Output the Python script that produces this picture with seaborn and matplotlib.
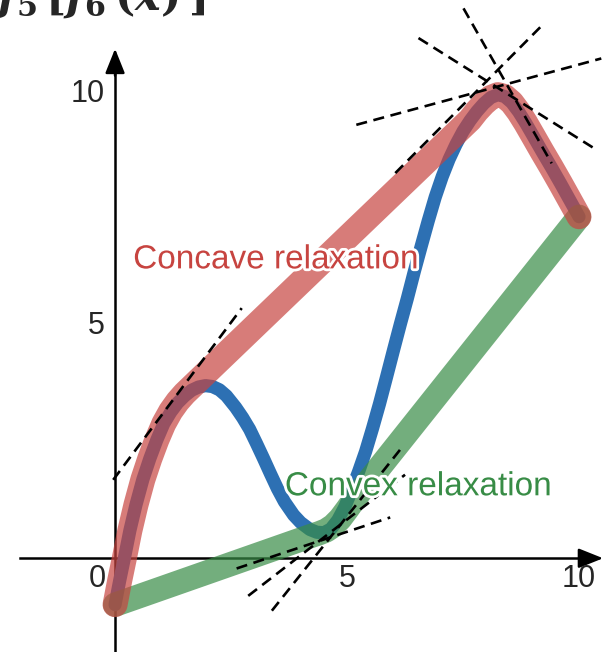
import numpy as np
import pandas as pd
import matplotlib
matplotlib.use("Agg")
import matplotlib.pyplot as plt
import matplotlib.patheffects as pe
import seaborn as sns

# ---- data ----
f_x = [0, 0.1, 0.2, 0.32, 0.45, 0.6, 0.75, 0.9, 1.05, 1.2, 1.35, 1.5, 1.65, 1.8, 1.95,
       2.1, 2.25, 2.4, 2.6, 2.75, 2.9, 3.05, 3.2, 3.35, 3.5, 3.65, 3.85, 4.0, 4.2, 4.35,
       4.5, 4.65, 4.8, 4.95, 5.1, 5.25, 5.4, 5.55, 5.7, 5.85, 6.0, 6.15, 6.3, 6.45, 6.6,
       6.75, 6.9, 7.05, 7.2, 7.35, 7.5, 7.65, 7.8, 7.95, 8.1, 8.25, 8.4, 8.55, 8.7, 8.85,
       9.0, 9.2, 9.4, 9.6, 9.8, 10]
f_y = [-1, -0.48, 0.0, 0.6, 1.15, 1.7, 2.15, 2.55, 2.9, 3.15, 3.35, 3.5, 3.62, 3.69, 3.72,
       3.7, 3.63, 3.5, 3.25, 3.03, 2.78, 2.47, 2.15, 1.82, 1.5, 1.22, 0.93, 0.77, 0.62, 0.56,
       0.55, 0.63, 0.82, 1.1, 1.47, 1.87, 2.3, 2.8, 3.33, 3.9, 4.48, 5.05, 5.6, 6.18, 6.73,
       7.27, 7.78, 8.22, 8.6, 8.92, 9.2, 9.43, 9.63, 9.8, 9.93, 9.99, 9.95, 9.82, 9.62, 9.38,
       9.12, 8.77, 8.43, 8.08, 7.72, 7.36]

concave_x = [0, 0.1, 0.2, 0.32, 0.45, 0.6, 0.75, 0.9, 1.05, 1.2, 1.35, 1.5, 7.65, 7.8,
             7.95, 8.1, 8.25, 8.4, 8.55, 8.7, 8.85, 9.0, 9.2, 9.4, 9.6, 9.8, 10]
concave_y = [-1, -0.48, 0.0, 0.6, 1.15, 1.7, 2.15, 2.55, 2.9, 3.17, 3.38, 3.55, 9.45, 9.64,
             9.8, 9.93, 9.99, 9.95, 9.82, 9.62, 9.38, 9.12, 8.77, 8.43, 8.08, 7.72, 7.36]

convex_x = [0, 4.25, 4.4, 4.55, 4.7, 4.85, 5.0, 5.2, 10]
convex_y = [-1, 0.49, 0.54, 0.6, 0.7, 0.85, 1.05, 1.33, 7.36]

# dashed tangent segments (x0, y0, x1, y1)
tangent_x0 = [-0.04, 2.62, 2.87, 3.38, 5.20, 6.54, 7.51, 6.04]
tangent_y0 = [1.69, -0.22, -0.81, -1.13, 9.34, 11.21, 11.85, 8.30]
tangent_x1 = [2.73, 5.93, 6.25, 6.20, 10.48, 10.38, 9.41, 9.23]
tangent_y1 = [5.39, 0.88, 1.80, 2.41, 10.77, 8.80, 8.51, 11.51]

tick_vals = [5, 10]
tick_labels = ["5", "10"]
title_text = r"$f_5\,[f_6\,(x)\,]$"
concave_label = "Concave relaxation"
convex_label = "Convex relaxation"

# ---- style ----
sns.set_style("white")
plt.rcParams["font.family"] = ["Liberation Sans", "DejaVu Sans"]
plt.rcParams["mathtext.fontset"] = "custom"
plt.rcParams["mathtext.rm"] = "DejaVu Serif:bold"
plt.rcParams["mathtext.it"] = "DejaVu Serif:bold:italic"
plt.rcParams["mathtext.bf"] = "DejaVu Serif:bold"

RED = "#c74440"
BLUE = "#2d70b3"
GREEN = "#388c46"

fig = plt.figure(figsize=(6.05, 6.52), dpi=100)
ax = fig.add_axes([0, 0, 1, 1])
ax.set_xlim(-2.48, 10.56)
ax.set_ylim(-2.02, 12.03)

# axes through origin
for s in ["top", "right"]:
    ax.spines[s].set_visible(False)
ax.spines["left"].set_position(("data", 0))
ax.spines["bottom"].set_position(("data", 0))
ax.spines["bottom"].set_bounds(-2.05, 10.3)
ax.spines["left"].set_bounds(-2.02, 10.6)
for s in ["left", "bottom"]:
    ax.spines[s].set_linewidth(1.8)
    ax.spines[s].set_color("black")
ax.set_xticks(tick_vals)
ax.set_yticks(tick_vals)
ax.tick_params(direction="inout", length=12, width=1.6, labelbottom=False, labelleft=False)
ax.set_xlabel("")
ax.set_ylabel("")

ax.annotate("", xy=(10.52, 0), xytext=(10.0, 0),
            arrowprops=dict(arrowstyle="-|>,head_length=0.75,head_width=0.3",
                            lw=1.8, color="black", mutation_scale=20, shrinkA=0, shrinkB=0))
ax.annotate("", xy=(0, 10.98), xytext=(0, 10.4),
            arrowprops=dict(arrowstyle="-|>,head_length=0.75,head_width=0.3",
                            lw=1.8, color="black", mutation_scale=20, shrinkA=0, shrinkB=0))

# curves
df_f = pd.DataFrame({"x": f_x, "y": f_y})
df_cc = pd.DataFrame({"x": concave_x, "y": concave_y})
df_cv = pd.DataFrame({"x": convex_x, "y": convex_y})

sns.lineplot(data=df_f, x="x", y="y", ax=ax, color=BLUE, lw=9.5, sort=False,
             estimator=None, solid_capstyle="round", solid_joinstyle="round", zorder=3)
sns.lineplot(data=df_cv, x="x", y="y", ax=ax, color=GREEN, lw=17.5, alpha=0.7, sort=False,
             estimator=None, solid_capstyle="round", solid_joinstyle="round", zorder=4)
sns.lineplot(data=df_cc, x="x", y="y", ax=ax, color=RED, lw=18, alpha=0.7, sort=False,
             estimator=None, solid_capstyle="round", solid_joinstyle="round", zorder=5)

for x0, y0, x1, y1 in zip(tangent_x0, tangent_y0, tangent_x1, tangent_y1):
    ax.plot([x0, x1], [y0, y1], color="black", lw=1.9, linestyle=(0, (4.2, 2.5)), zorder=6)

halo = [pe.withStroke(linewidth=4, foreground="white")]
ax.text(0.39, 6.43, concave_label, color=RED, fontsize=24, va="center", ha="left",
        path_effects=halo, zorder=7)
ax.text(3.66, 1.54, convex_label, color=GREEN, fontsize=24, va="center", ha="left",
        path_effects=halo, zorder=7)

# tick labels
for v, lab in zip(tick_vals, tick_labels):
    ax.text(v, -0.45, lab, fontsize=22, ha="center", va="center", zorder=7)
    ax.text(-0.22, v, lab, fontsize=22, ha="right", va="center", zorder=7)
ax.text(-0.39, -0.45, "0", fontsize=22, ha="center", va="center", zorder=7)

fig.text(-0.008, 0.986, title_text, fontsize=31, ha="left", va="baseline")

fig.savefig("out.png", dpi=100)
